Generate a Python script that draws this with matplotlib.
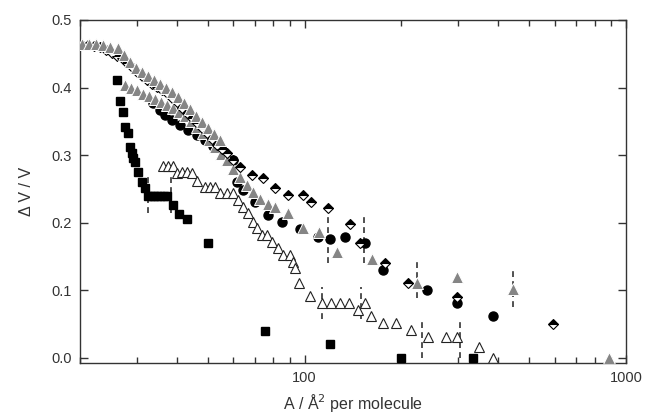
import numpy as np
import matplotlib
matplotlib.use("Agg")
import matplotlib.pyplot as plt
from matplotlib.ticker import LogLocator, FixedLocator, NullFormatter, FixedFormatter

plt.rcParams["font.family"] = ["Liberation Sans", "DejaVu Sans"]

# ---- data ----
sq_x = [26.0, 26.6, 27.2, 27.6, 28.2, 28.6, 29.0, 29.2, 29.7, 30.3, 31.2, 31.9, 32.6,
        33.3, 34.0, 34.8, 35.6, 36.5, 37.2, 38.9, 40.6, 43.1, 50.0, 75.3, 120, 200, 334]
sq_y = [0.411, 0.380, 0.363, 0.341, 0.333, 0.312, 0.303, 0.296, 0.289, 0.275, 0.260, 0.251, 0.240,
        0.240, 0.240, 0.240, 0.240, 0.240, 0.240, 0.226, 0.212, 0.206, 0.170, 0.040, 0.020, 0.0, 0.0]

otri_x = [36.2, 37.6, 38.9, 40.1, 41.5, 43.0, 44.6, 46.2, 49.0, 50.7, 52.6, 54.5, 57.3, 59.8,
          62.0, 64.3, 66.6, 69.1, 71.1, 73.7, 76.4, 79.2, 82.6, 85.6, 90.0, 92.0, 93.3, 96.0,
          103.9, 113, 121, 129, 137, 147, 154, 161, 175, 192, 214, 242, 275, 298, 349, 386]
otri_y = [0.284, 0.284, 0.284, 0.273, 0.275, 0.275, 0.273, 0.261, 0.253, 0.253, 0.253, 0.244,
          0.244, 0.244, 0.233, 0.223, 0.214, 0.201, 0.192, 0.181, 0.181, 0.171, 0.162, 0.152,
          0.152, 0.141, 0.133, 0.110, 0.091, 0.081, 0.081, 0.081, 0.081, 0.070, 0.081, 0.061,
          0.051, 0.051, 0.041, 0.030, 0.030, 0.030, 0.016, 0.0]

circ_x = [33.7, 35.5, 36.8, 38.7, 40.9, 43.4, 46.2, 49.0, 51.9, 55.3, 59.8, 61.6, 64.3, 70.1,
          76.9, 85.0, 96.7, 110, 120, 134, 154, 175, 240, 298, 386]
circ_y = [0.377, 0.367, 0.359, 0.352, 0.344, 0.337, 0.330, 0.322, 0.313, 0.308, 0.293, 0.260,
          0.248, 0.230, 0.211, 0.201, 0.190, 0.178, 0.175, 0.178, 0.169, 0.130, 0.100, 0.081, 0.061]

gtri_up_x = [20.3, 21.3, 22.4, 23.6, 24.8, 26.3, 27.4, 28.6, 29.9, 31.2, 32.6, 34.0, 35.5,
             37.0, 38.7, 40.4, 42.1, 44.0, 45.9, 47.9, 50.0, 52.2, 54.5]
gtri_up_y = [0.465, 0.465, 0.465, 0.463, 0.460, 0.458, 0.448, 0.438, 0.429, 0.423, 0.417,
             0.411, 0.405, 0.399, 0.393, 0.386, 0.377, 0.368, 0.358, 0.349, 0.340, 0.331, 0.322]

gtri_x = [27.6, 28.8, 30.1, 31.4, 32.8, 34.2, 35.7, 37.3, 38.9, 40.6, 42.4, 44.3, 46.2, 48.3,
          50.4, 52.6, 54.9, 57.3, 59.8, 62.9, 66.2, 69.1, 72.6, 76.9, 80.9, 88.8, 98.8, 111,
          126, 162, 223, 298, 444, 888]
gtri_y = [0.404, 0.399, 0.396, 0.391, 0.387, 0.383, 0.378, 0.374, 0.370, 0.364, 0.358, 0.351,
          0.342, 0.332, 0.322, 0.312, 0.302, 0.292, 0.280, 0.268, 0.255, 0.245, 0.235, 0.228,
          0.223, 0.214, 0.192, 0.186, 0.156, 0.146, 0.111, 0.120, 0.101, 0.0]

dia_x = [20.3, 21.2, 22.1, 23.1, 24.1, 25.2, 26.1, 27.0, 28.0, 29.0, 30.1, 31.2, 32.3, 33.5,
         34.7, 36.0, 37.3, 38.7, 40.1, 41.5, 43.0, 44.6, 46.2, 47.9, 49.7, 51.5, 53.4, 55.3,
         57.3, 59.8, 62.9, 68.6, 74.2, 80.9, 88.8, 98.8, 105, 118, 138, 149, 178, 210, 298, 592]
dia_y = [0.463, 0.463, 0.462, 0.460, 0.456, 0.451, 0.447, 0.444, 0.436, 0.430, 0.423, 0.417,
         0.411, 0.405, 0.401, 0.396, 0.392, 0.385, 0.378, 0.370, 0.362, 0.355, 0.347, 0.340,
         0.333, 0.324, 0.315, 0.309, 0.303, 0.293, 0.282, 0.270, 0.266, 0.251, 0.241, 0.241,
         0.230, 0.222, 0.198, 0.170, 0.140, 0.110, 0.090, 0.050]

# dashed error bars
err_x = [32.6, 38.4, 118, 153, 113, 150, 224, 232, 304, 445]
err_lo = [0.214, 0.214, 0.140, 0.140, 0.057, 0.057, 0.088, 0.0, 0.0, 0.075]
err_hi = [0.273, 0.273, 0.208, 0.208, 0.104, 0.104, 0.147, 0.059, 0.059, 0.134]

TXT = "#333333"
GRAY = "#858585"

fig = plt.figure(figsize=(6.47, 4.20), dpi=100)
ax = fig.add_axes([0.1236, 0.1357, 0.8439, 0.8167])

ax.vlines(err_x, err_lo, err_hi, colors="#333333", linestyles=(0, (3.5, 2.5)), linewidth=1.2, zorder=1)

ax.plot(sq_x, sq_y, "s", color="black", ms=5.2, zorder=3)
ax.plot(otri_x, otri_y, "^", mfc="white", mec="#222222", mew=0.8, ms=7, zorder=2)
ax.plot(circ_x, circ_y, "o", color="black", ms=6.5, zorder=4)
ax.plot(gtri_x, gtri_y, "^", mfc=GRAY, mec="white", mew=0.7, ms=8, zorder=4.5)
ax.plot(dia_x, dia_y, "D", ms=5.5, fillstyle="top", mfc="black", mfcalt="white",
        mec="black", mew=0.8, zorder=5)
ax.plot(gtri_up_x, gtri_up_y, "^", mfc=GRAY, mec="white", mew=0.7, ms=8, zorder=6)

ax.set_xscale("log")
ax.set_xlim(20, 1000)
ax.set_ylim(-0.008, 0.5)

ax.xaxis.set_major_locator(FixedLocator([100, 1000]))
ax.xaxis.set_major_formatter(FixedFormatter(["100", "1000"]))
ax.xaxis.set_minor_locator(LogLocator(base=10, subs=np.arange(2, 10)))
ax.xaxis.set_minor_formatter(NullFormatter())
ax.set_yticks([0.0, 0.1, 0.2, 0.3, 0.4, 0.5])
ax.set_yticklabels(["0.0", "0.1", "0.2", "0.3", "0.4", "0.5"])

ax.tick_params(which="both", direction="in", top=True, right=True, colors="#333333",
               labelcolor=TXT, labelsize=10.5, width=1.0)
ax.tick_params(which="major", length=6, pad=6)
ax.tick_params(which="minor", length=4)

for s in ax.spines.values():
    s.set_color("#333333")
    s.set_linewidth(1.0)

ax.set_xlabel("A / Å$^2$ per molecule", fontsize=11.5, color=TXT, labelpad=5)
ax.set_ylabel("Δ V / V", fontsize=11.5, color=TXT, labelpad=12)

fig.savefig("out.png", dpi=100)
